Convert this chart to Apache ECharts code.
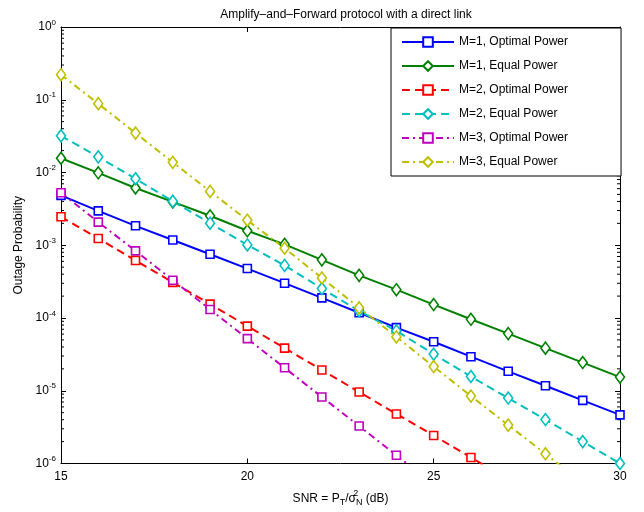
<!DOCTYPE html>
<html>
<head>
<meta charset="utf-8">
<script src="https://cdn.jsdelivr.net/npm/echarts@6/dist/echarts.min.js"></script>
<style>html,body{margin:0;padding:0;background:#fff;}#chart{width:644px;height:512px;}</style>
</head>
<body>
<div id="chart"></div>
<script>
const snr = [15,16,17,18,19,20,21,22,23,24,25,26,27,28,29,30];
const m1Optimal = [4.85e-3,2.97e-3,1.85e-3,1.18e-3,7.53e-4,4.78e-4,3.01e-4,1.89e-4,1.18e-4,7.38e-5,4.71e-5,2.94e-5,1.85e-5,1.17e-5,7.38e-6,4.66e-6];
const m1Equal = [1.57e-2,9.9e-3,6.12e-3,3.94e-3,2.54e-3,1.58e-3,1.03e-3,6.3e-4,3.86e-4,2.45e-4,1.53e-4,9.6e-5,6.1e-5,3.85e-5,2.44e-5,1.54e-5];
const m2Optimal = [2.46e-3,1.24e-3,6.18e-4,3.09e-4,1.55e-4,7.73e-5,3.86e-5,1.93e-5,9.6e-6,4.8e-6,2.43e-6,1.21e-6,6.0e-7];
const m2Equal = [3.19e-2,1.64e-2,8.2e-3,4.02e-3,2.01e-3,1.01e-3,5.28e-4,2.54e-4,1.25e-4,6.65e-5,3.19e-5,1.57e-5,7.94e-6,4.02e-6,2.0e-6,1.0e-6];
const m3Optimal = [5.28e-3,2.08e-3,8.36e-4,3.31e-4,1.31e-4,5.2e-5,2.07e-5,8.2e-6,3.27e-6,1.30e-6,5.1e-7];
const m3Equal = [0.221,8.83e-2,3.48e-2,1.38e-2,5.5e-3,2.21e-3,9.1e-4,3.55e-4,1.38e-4,5.5e-5,2.15e-5,8.45e-6,3.37e-6,1.36e-6,5.4e-7];
const seriesNames = ['M=1, Optimal Power','M=1, Equal Power','M=2, Optimal Power','M=2, Equal Power','M=3, Optimal Power','M=3, Equal Power'];
const minorTickValues = [];
for (let e = -6; e < 0; e++) { for (let k = 2; k <= 9; k++) minorTickValues.push(k * Math.pow(10, e)); }

const FONT = "'Liberation Sans', Arial, Helvetica, sans-serif";
const styles = [
  {c:'#0000ff', sym:'rect', size:8, dash:'solid'},
  {c:'#008000', sym:'diamond', size:[9,12], dash:'solid'},
  {c:'#ff0000', sym:'rect', size:8, dash:[8,5]},
  {c:'#00bfbf', sym:'diamond', size:[9,12], dash:[8,5]},
  {c:'#bf00bf', sym:'rect', size:8, dash:[7,4,2,4]},
  {c:'#bfbf00', sym:'diamond', size:[9,12], dash:[7,4,2,4]}
];
const values = [m1Optimal, m1Equal, m2Optimal, m2Equal, m3Optimal, m3Equal];

const lineSeries = values.map((vals, i) => ({
  name: seriesNames[i],
  type: 'line',
  color: styles[i].c,
  data: vals.map((v, j) => [snr[j], v]),
  symbol: styles[i].sym,
  symbolSize: styles[i].size,
  showSymbol: true,
  clip: true,
  lineStyle: {color: styles[i].c, width: 2, type: styles[i].dash},
  itemStyle: {color: '#ffffff', borderColor: styles[i].c, borderWidth: 1.6},
  emphasis: {disabled: true},
  animation: false,
  z: 3
}));

const minorSeries = {
  type: 'custom',
  silent: true,
  animation: false,
  data: minorTickValues.map(v => [15, v]),
  renderItem: function (params, api) {
    const y = api.value(1);
    const p = api.coord([15, y]);
    const q = api.coord([30, y]);
    return {type: 'group', children: [
      {type: 'line', shape: {x1: p[0], y1: p[1], x2: p[0] + 3, y2: p[1]}, style: {stroke: '#000', lineWidth: 1}},
      {type: 'line', shape: {x1: q[0] - 3, y1: q[1], x2: q[0], y2: q[1]}, style: {stroke: '#000', lineWidth: 1}}
    ]};
  },
  z: 2
};

const chart = echarts.init(document.getElementById('chart'), null, {renderer: 'canvas'});
const yLabelFmt = v => { const e = Math.round(Math.log10(v)); return '{b|10}{s|' + e + '}'; };
const axisCommon = {
  axisLine: {show: true, lineStyle: {color: '#000', width: 1}},
  axisTick: {show: true, inside: true, length: 5, lineStyle: {color: '#000'}},
  splitLine: {show: false}
};
chart.setOption({
  animation: false,
  backgroundColor: '#ffffff',
  textStyle: {fontFamily: FONT},
  title: {
    text: 'Amplify–and–Forward protocol with a direct link',
    left: 341, top: 4, textAlign: 'center',
    textStyle: {fontFamily: FONT, fontSize: 12, fontWeight: 'normal', color: '#000'}
  },
  grid: {left: 61, right: 24, top: 27, bottom: 45, containLabel: false},
  legend: {
    data: seriesNames,
    orient: 'vertical',
    left: 391, top: 28,
    padding: [8, 53, 8, 10],
    itemWidth: 52, itemHeight: 12, itemGap: 12,
    backgroundColor: '#ffffff',
    borderColor: '#000', borderWidth: 1,
    textStyle: {fontFamily: FONT, fontSize: 12, color: '#000'},
    selectedMode: false,
    z: 10
  },
  xAxis: [
    Object.assign({
      type: 'value', min: 15, max: 30, interval: 5, position: 'bottom',
      name: '{n|SNR = P}{sub|T}{n|/σ}{sup|2}{sub|N}{n| (dB)}',
      nameLocation: 'middle', nameGap: 26,
      nameTextStyle: {fontFamily: FONT, fontSize: 12, color: '#000', rich: {
        n: {fontSize: 12, fontFamily: FONT, color: '#000'},
        sub: {fontSize: 9, fontFamily: FONT, color: '#000', padding: [8, 0, 0, 0]},
        sup: {fontSize: 9, fontFamily: FONT, color: '#000', width: 0, padding: [0, 0, 9, 0]}
      }},
      axisLabel: {fontFamily: FONT, fontSize: 12, color: '#000', margin: 7}
    }, axisCommon),
    Object.assign({
      type: 'value', min: 15, max: 30, interval: 5, position: 'top',
      axisLabel: {show: false}
    }, axisCommon)
  ],
  yAxis: [
    Object.assign({
      type: 'log', logBase: 10, min: 1e-6, max: 1, splitNumber: 6, position: 'left',
      name: 'Outage Probability', nameLocation: 'middle', nameGap: 31,
      nameTextStyle: {fontFamily: FONT, fontSize: 12, color: '#000'},
      axisLabel: {fontFamily: FONT, fontSize: 12, color: '#000', margin: 5, formatter: yLabelFmt,
        rich: {b: {fontSize: 12, fontFamily: FONT, color: '#000'}, s: {fontSize: 8, fontFamily: FONT, color: '#000', padding: [0, 0, 9, 0]}}}
    }, axisCommon),
    Object.assign({
      type: 'log', logBase: 10, min: 1e-6, max: 1, splitNumber: 6, position: 'right',
      axisLabel: {show: false}
    }, axisCommon)
  ],
  series: lineSeries.concat([minorSeries])
});
</script>
</body>
</html>
